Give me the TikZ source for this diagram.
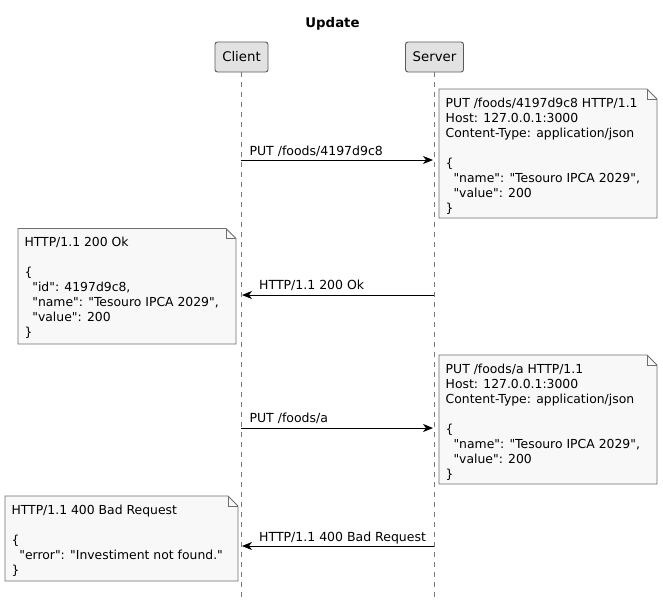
\documentclass[tikz,border=0pt]{standalone}
\usepackage{fontspec}
\setmainfont{DejaVu Sans}
\newfontfamily\dv{DejaVu Sans}
\usetikzlibrary{arrows.meta}
\definecolor{notefill}{HTML}{F8F8F8}
\definecolor{boxfill}{HTML}{E2E2E2}
\definecolor{bordercol}{HTML}{5A5A5A}
\definecolor{notebord}{HTML}{6E6E6E}
\definecolor{lifecol}{HTML}{7A7A7A}
\newcommand\notelines[1]{\vtop{\baselineskip=15pt\lineskiplimit=-30pt\lineskip=0pt\halign{##\hfil\cr#1\crcr}}}
\newcommand\ind{\hspace*{7.8pt}}
\newcommand\notepath[4]{%
  \draw[notebox] (#1,#2) -- (#3-10,#2) -- (#3,#2+10) -- (#3,#4) -- (#1,#4) -- cycle;
  \draw[notebox,fill=none] (#3-10,#2) -- (#3-10,#2+10) -- (#3,#2+10);}
\tikzset{
  notebox/.style={draw=notebord, fill=notefill, line width=0.9pt, line join=miter},
  partbox/.style={draw=bordercol, fill=boxfill, rounded corners=2.5pt, line width=0.9pt,
    inner sep=0pt, font=\dv\fontsize{13.3}{16}\selectfont},
  lifeline/.style={draw=lifecol, dash pattern=on 5pt off 5pt, line width=0.9pt},
  msg/.style={draw=black, line width=0.9pt, -{Stealth[length=10pt,width=8pt,inset=3pt]}},
  notetext/.style={anchor=base west, inner sep=0pt, font=\dv\fontsize{12.4}{15}\selectfont},
  msgtext/.style={anchor=base west, inner sep=0pt, font=\dv\fontsize{12.5}{15}\selectfont},
}
\begin{document}
\begin{tikzpicture}[x=1pt,y=-1pt]
\useasboundingbox[fill=white] (0,0) rectangle (663,603);

% title
\node[anchor=base, inner sep=0pt, font=\dv\fontsize{13.3}{16}\selectfont\bfseries] (title) at (332.5,27.3) {Update};

% lifelines
\coordinate (clTop) at (241,72);
\coordinate (clBot) at (241,598);
\coordinate (svTop) at (434,72);
\coordinate (svBot) at (434,598);
\draw[lifeline] (clTop) -- (clBot);
\draw[lifeline] (svTop) -- (svBot);

% participants
\node[partbox, minimum width=53pt, minimum height=30pt] (client) at (241.5,57) {Client};
\node[partbox, minimum width=58pt, minimum height=30pt] (server) at (434.5,57) {Server};

% message 1
\notepath{439}{89}{657}{218}
\node[notetext] (n1) at (445.5,107) {\notelines{PUT /foods/4197d9c8 HTTP/1.1\cr
Host: 127.0.0.1:3000\cr
Content-Type: application/json\cr
\relax\cr
\{\cr
\ind"name": "Tesouro IPCA 2029",\cr
\ind"value": 200\cr
\}}};
\coordinate (m1a) at (241,160);
\coordinate (m1b) at (433,160);
\draw[msg] (m1a) -- (m1b);
\node[msgtext] (l1) at (249.3,155) {PUT /foods/4197d9c8};

% message 2
\notepath{18}{228.5}{236}{344}
\node[notetext] (n2) at (24.3,246.5) {\notelines{HTTP/1.1 200 Ok\cr
\relax\cr
\{\cr
\ind"id": 4197d9c8,\cr
\ind"name": "Tesouro IPCA 2029",\cr
\ind"value": 200\cr
\}}};
\coordinate (m2a) at (434,295);
\coordinate (m2b) at (242,295);
\draw[msg] (m2a) -- (m2b);
\node[msgtext] (l2) at (259,289.5) {HTTP/1.1 200 Ok};

% message 3
\notepath{439}{355}{657}{484}
\node[notetext] (n3) at (445.5,373) {\notelines{PUT /foods/a HTTP/1.1\cr
Host: 127.0.0.1:3000\cr
Content-Type: application/json\cr
\relax\cr
\{\cr
\ind"name": "Tesouro IPCA 2029",\cr
\ind"value": 200\cr
\}}};
\coordinate (m3a) at (241,428);
\coordinate (m3b) at (433,428);
\draw[msg] (m3a) -- (m3b);
\node[msgtext] (l3) at (249.3,422.5) {PUT /foods/a};

% message 4
\notepath{5}{496}{238}{581}
\node[notetext] (n4) at (11.3,514) {\notelines{HTTP/1.1 400 Bad Request\cr
\relax\cr
\{\cr
\ind"error": "Investiment not found."\cr
\}}};
\coordinate (m4a) at (434,546);
\coordinate (m4b) at (242,546);
\draw[msg] (m4a) -- (m4b);
\node[msgtext] (l4) at (259,541) {HTTP/1.1 400 Bad Request};
\end{tikzpicture}
\end{document}
